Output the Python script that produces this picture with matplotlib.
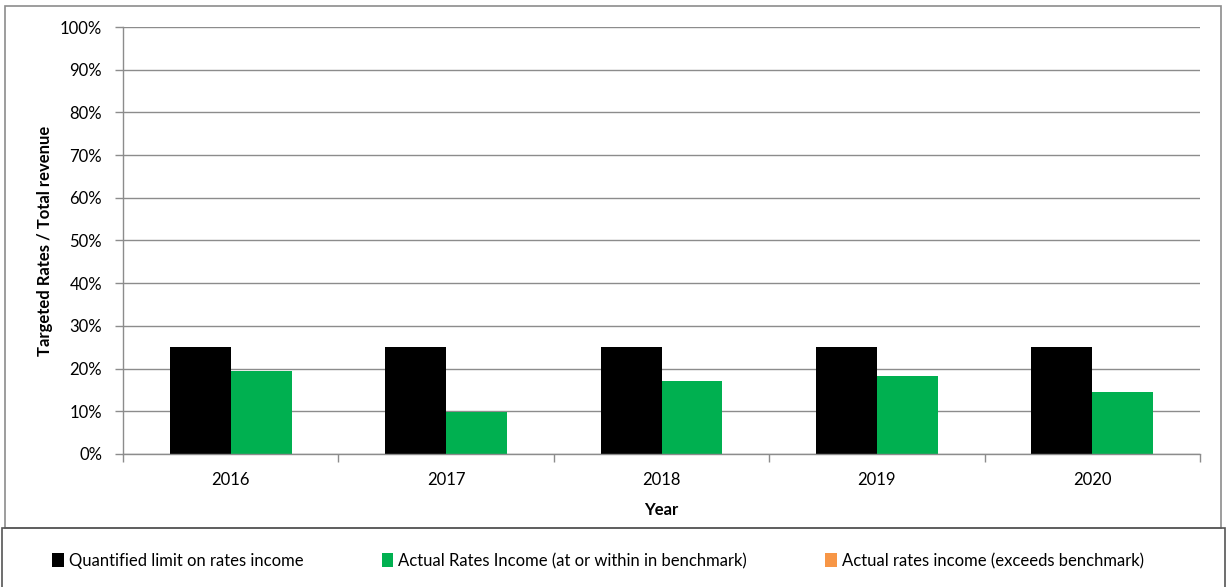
import matplotlib.pyplot as plt
import matplotlib.patches as mpatches
import numpy as np

years = ['2016', '2017', '2018', '2019', '2020']
limit = [25, 25, 25, 25, 25]
actual_within = [19.4, 9.9, 17.1, 18.3, 14.5]
actual_exceeds = [0, 0, 0, 0, 0]

plt.rcParams['font.family'] = ['Lato', 'DejaVu Sans']
fs = 12

fig = plt.figure(figsize=(12.27, 5.87), dpi=100)
ax = fig.add_axes([123 / 1227, 1 - 454 / 587, (1200 - 123) / 1227, (454 - 27) / 587])

x = np.arange(len(years))
w = 0.283
ax.bar(x - w / 2, limit, w, color='black', label='Quantified limit on rates income')
ax.bar(x + w / 2, actual_within, w, color='#00B050',
       label='Actual Rates Income (at or within in benchmark)')
ax.bar(x + w / 2, actual_exceeds, w, bottom=actual_within, color='#F79646',
       label='Actual rates income (exceeds benchmark)')

grey = '#8c8c8c'
ax.set_xlim(-0.5, len(years) - 0.5)
ax.set_ylim(0, 100)
ax.set_yticks(range(0, 101, 10))
ax.set_yticklabels([f'{v}%' for v in range(0, 101, 10)])
ax.set_xticks(x)
ax.set_xticklabels(years)
ax.set_xticks(np.arange(-0.5, len(years)), minor=True)
ax.tick_params(axis='x', which='major', length=0, pad=13, labelsize=fs)
ax.tick_params(axis='x', which='minor', length=6, color=grey, width=1)
ax.tick_params(axis='y', length=6, color=grey, width=1, pad=9, labelsize=fs)
ax.yaxis.grid(True, color=grey, linewidth=1)
ax.set_axisbelow(True)
for s in ['top', 'right']:
    ax.spines[s].set_visible(False)
for s in ['left', 'bottom']:
    ax.spines[s].set_color(grey)
    ax.spines[s].set_linewidth(1)

ax.set_ylabel('Targeted Rates / Total revenue', fontsize=fs, fontweight='bold')
ax.set_xlabel('Year', fontsize=fs, fontweight='bold')
ax.yaxis.set_label_coords((53 - 123) / 1077, 0.5)
ax.xaxis.set_label_coords(0.5, -(502 - 454) / 427)

# chart and legend frames
fig.add_artist(mpatches.Rectangle((5 / 1227, 1 - 528 / 587), 1216 / 1227, 522 / 587,
                                  transform=fig.transFigure, fill=False,
                                  edgecolor=grey, linewidth=1.2))
fig.add_artist(mpatches.Rectangle((2 / 1227, -0.01), 1223 / 1227, 1 - 528 / 587 + 0.01,
                                  transform=fig.transFigure, fill=False,
                                  edgecolor='#555555', linewidth=1.2))

handles, labels = ax.get_legend_handles_labels()
fig.legend(handles, labels, loc='center', bbox_to_anchor=(598 / 1227, 1 - 561 / 587), ncol=3,
           frameon=False, fontsize=fs, handlelength=0.7, handleheight=0.9,
           handletextpad=0.3, columnspacing=4.7)

fig.savefig('out.png', dpi=100)
